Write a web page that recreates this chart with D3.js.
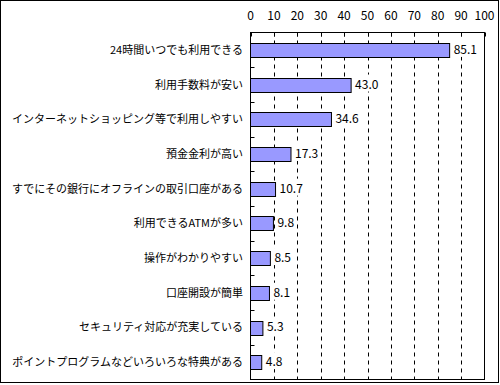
<!DOCTYPE html>
<html>
<head>
<meta charset="utf-8">
<script src="https://cdn.jsdelivr.net/npm/d3@7"></script>
<style>
  body { margin: 0; background: #fff; }
  text { font-family: "Noto Sans CJK JP", sans-serif; fill: #000; }
</style>
</head>
<body>
<div id="chart"></div>
<script>
// data
var categories = [
  "24時間いつでも利用できる",
  "利用手数料が安い",
  "インターネットショッピング等で利用しやすい",
  "預金金利が高い",
  "すでにその銀行にオフラインの取引口座がある",
  "利用できるATMが多い",
  "操作がわかりやすい",
  "口座開設が簡単",
  "セキュリティ対応が充実している",
  "ポイントプログラムなどいろいろな特典がある"
];
var values = [85.1, 43.0, 34.6, 17.3, 10.7, 9.8, 8.5, 8.1, 5.3, 4.8];
var tickValues = [0, 10, 20, 30, 40, 50, 60, 70, 80, 90, 100];

var W = 500, H = 385;
var plotL = 250.5, plotR = 484.5, plotT = 32.5, plotB = 379.5;

var svg = d3.select('#chart').append('svg')
  .attr('width', W)
  .attr('height', H);

// outer frame
svg.append('rect')
  .attr('x', 0.5).attr('y', 0.5)
  .attr('width', 498).attr('height', 382)
  .attr('fill', 'none').attr('stroke', '#000');

var x = d3.scaleLinear().domain([0, 100]).range([plotL, plotR]);
var y = d3.scaleBand().domain(categories).range([plotT, plotB]).paddingInner(0.6).paddingOuter(0.3);
var yb = d3.scaleBand().domain(categories).range([plotT, plotB]);

// dashed gridlines
svg.append('g').selectAll('line')
  .data(tickValues.slice(1, -1))
  .join('line')
  .attr('x1', function(d) { return Math.round(x(d)) + 0.5; })
  .attr('x2', function(d) { return Math.round(x(d)) + 0.5; })
  .attr('y1', plotT).attr('y2', plotB)
  .attr('stroke', '#000')
  .attr('stroke-dasharray', '4,4');

// top ticks
svg.append('g').selectAll('line')
  .data(tickValues)
  .join('line')
  .attr('x1', function(d) { return Math.round(x(d)) + 0.5; })
  .attr('x2', function(d) { return Math.round(x(d)) + 0.5; })
  .attr('y1', plotT).attr('y2', plotT + 4)
  .attr('stroke', '#000');

// plot frame
svg.append('rect')
  .attr('x', plotL).attr('y', plotT)
  .attr('width', plotR - plotL).attr('height', plotB - plotT)
  .attr('fill', 'none').attr('stroke', '#000');

// category ticks on left axis
svg.append('g').selectAll('line')
  .data(categories.slice(1))
  .join('line')
  .attr('x1', plotL).attr('x2', plotL + 4)
  .attr('y1', function(d) { return Math.round(yb(d)) + 0.5; })
  .attr('y2', function(d) { return Math.round(yb(d)) + 0.5; })
  .attr('stroke', '#000');

// x tick labels
svg.append('g').selectAll('text')
  .data(tickValues)
  .join('text')
  .attr('x', function(d) { return x(d); })
  .attr('y', 20)
  .attr('text-anchor', 'middle')
  .style('font-size', '12px')
  .text(function(d) { return d; });

// bars
svg.append('g').selectAll('rect')
  .data(values)
  .join('rect')
  .attr('x', plotL)
  .attr('y', function(d, i) { return Math.round(y(categories[i])) + 0.5; })
  .attr('width', function(d) { return x(d) - plotL; })
  .attr('height', Math.round(y.bandwidth()))
  .attr('fill', '#9999ff')
  .attr('stroke', '#000');

// value labels, on a white patch so the gridlines stop behind them
var vl = svg.append('g').selectAll('g')
  .data(values)
  .join('g');
var vbg = vl.append('rect').attr('fill', '#fff');
var vt = vl.append('text')
  .attr('x', function(d) { return x(d) + 4; })
  .attr('y', function(d, i) { return yb(categories[i]) + yb.bandwidth() / 2 + 4; })
  .style('font-size', '12px')
  .text(function(d) { return d.toFixed(1); });
vt.each(function(d, i) {
  var b = this.getBBox();
  d3.select(vbg.nodes()[i])
    .attr('x', b.x - 1).attr('y', b.y)
    .attr('width', b.width + 2).attr('height', b.height);
});

// category labels
svg.append('g').selectAll('text')
  .data(categories)
  .join('text')
  .attr('x', 243)
  .attr('y', function(d) { return yb(d) + yb.bandwidth() / 2 + 4; })
  .attr('text-anchor', 'end')
  .style('font-size', '11px')
  .text(function(d) { return d; });
</script>
</body>
</html>
